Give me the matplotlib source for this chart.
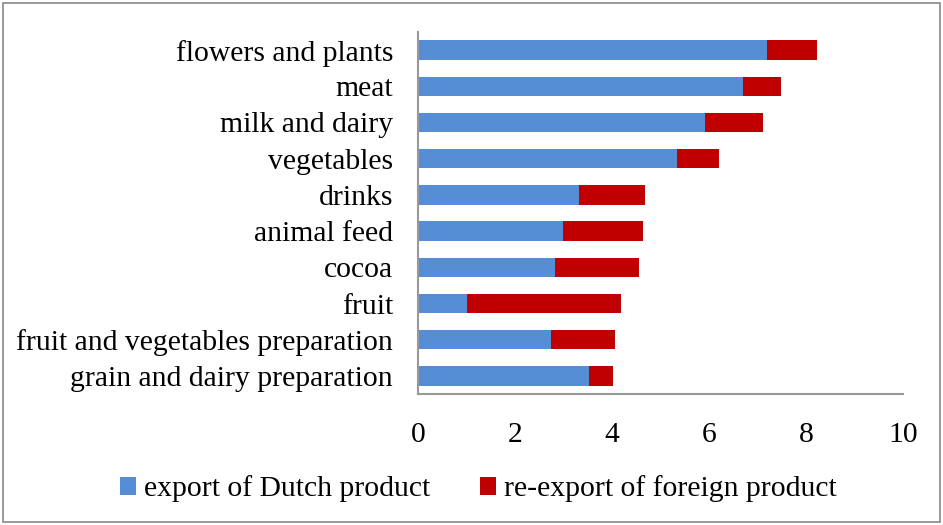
import matplotlib.pyplot as plt
from matplotlib.patches import Rectangle

categories = ["flowers and plants", "meat", "milk and dairy", "vegetables", "drinks",
              "animal feed", "cocoa", "fruit", "fruit and vegetables preparation",
              "grain and dairy preparation"]
dutch = [7.20, 6.71, 5.92, 5.35, 3.32, 2.99, 2.82, 1.01, 2.74, 3.53]
reexport = [1.03, 0.78, 1.20, 0.86, 1.36, 1.65, 1.74, 3.18, 1.32, 0.49]

plt.rcParams["font.family"] = ["Liberation Serif", "DejaVu Serif"]
fs = 21.3

fig = plt.figure(figsize=(9.43, 5.25), dpi=100)
ax = fig.add_axes([418 / 943, 131 / 525, 485 / 943, 362 / 525])

y = list(range(len(categories)))
ax.barh(y, dutch, height=0.54, color="#558ED5", label="export of Dutch product")
ax.barh(y, reexport, left=dutch, height=0.54, color="#C00000",
        label="re-export of foreign product")

ax.set_xlim(0, 10)
ax.set_ylim(len(categories) - 0.5, -0.5)
ax.set_yticks(y)
ax.set_yticklabels(categories, fontsize=fs)
ax.set_xticks([0, 2, 4, 6, 8, 10])
ax.tick_params(axis="x", labelsize=fs, length=0, pad=20)
ax.tick_params(axis="y", length=0, pad=18)

for s in ["top", "right"]:
    ax.spines[s].set_visible(False)
for s in ["left", "bottom"]:
    ax.spines[s].set_color("#999999")
    ax.spines[s].set_linewidth(1.5)

fig.legend(loc="center", bbox_to_anchor=(478.5 / 943, 36 / 525), ncol=2, frameon=False,
           fontsize=fs, handlelength=0.52, handleheight=0.52, handletextpad=0.27,
           columnspacing=1.7)

fig.patches.append(Rectangle((3 / 943, 3 / 525), 937 / 943, 519 / 525,
                             transform=fig.transFigure, fill=False,
                             edgecolor="#888888", linewidth=1.2))

fig.savefig("out.png", dpi=100)
